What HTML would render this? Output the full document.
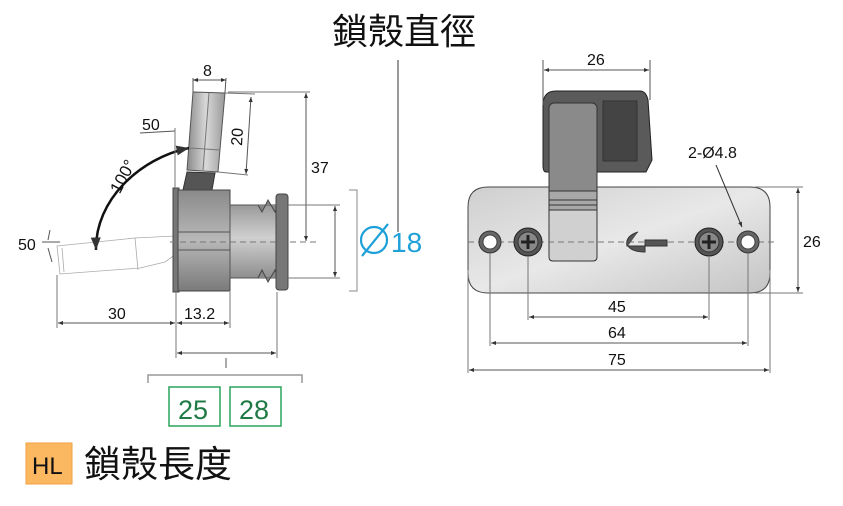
<!DOCTYPE html>
<html><head><meta charset="utf-8"><style>
html,body{margin:0;padding:0;background:#fff;width:843px;height:506px;overflow:hidden}
svg text{font-family:"Liberation Sans","Noto Sans CJK TC",sans-serif}
</style></head><body>
<svg width="843" height="506" viewBox="0 0 843 506" xmlns="http://www.w3.org/2000/svg">
<defs>
<marker id="a" viewBox="0 0 10 10" refX="10" refY="5" markerWidth="7" markerHeight="5" orient="auto-start-reverse"><path d="M0,1 L10,5 L0,9 z" fill="#333"/></marker>
<linearGradient id="cyl" x1="0" y1="0" x2="0" y2="1"><stop offset="0" stop-color="#8a8a8a"/><stop offset=".5" stop-color="#b8b8b8"/><stop offset="1" stop-color="#7a7a7a"/></linearGradient>
<linearGradient id="cyl2" x1="0" y1="0" x2="0" y2="1"><stop offset="0" stop-color="#9a9a9a"/><stop offset=".45" stop-color="#d0d0d0"/><stop offset="1" stop-color="#8e8e8e"/></linearGradient>
<linearGradient id="plate" x1="0" y1="0" x2="1" y2="1"><stop offset="0" stop-color="#cfcfcf"/><stop offset=".5" stop-color="#e8e8e8"/><stop offset="1" stop-color="#c4c4c4"/></linearGradient>
<linearGradient id="hd" x1="0" y1="0" x2="1" y2="0"><stop offset="0" stop-color="#8a8a8a"/><stop offset=".5" stop-color="#d8d8d8"/><stop offset="1" stop-color="#999"/></linearGradient>
</defs>
<g stroke="#333" stroke-width="1" fill="none">
<text x="332" y="44" font-size="36" fill="#111" stroke="none">鎖殼直徑</text>
<line x1="398" y1="60" x2="398" y2="232"/>

<g stroke="#aaa" stroke-width="0.8">
<polygon points="57,246 135,238 175,236 176,254 165,262 140,268 60,274"/>
<line x1="135" y1="238" x2="138" y2="270"/>
<line x1="62" y1="248" x2="64" y2="272"/>
</g>
<polygon points="193,92 225,93 218,172 187,170" fill="url(#hd)" stroke="#555"/>
<line x1="209" y1="93" x2="203" y2="170" stroke="#777"/>
<line x1="190" y1="148" x2="220" y2="150" stroke="#777"/>
<polygon points="187,172 215,173 212,190 183,190" fill="#555" stroke="#333"/>
<rect x="173" y="188" width="6" height="104" fill="#777" stroke="#444"/>
<rect x="178" y="190" width="52" height="101" fill="url(#cyl)" stroke="#444"/>
<line x1="178" y1="232" x2="230" y2="232" stroke="#555"/>
<line x1="178" y1="250" x2="230" y2="250" stroke="#555"/>
<rect x="230" y="205" width="48" height="73" fill="url(#cyl2)" stroke="#555"/>
<path d="M258,205 L262,212 L268,200 L275,212 L278,205 M258,278 L262,270 L268,282 L275,270 L278,278" stroke="#444" fill="#888"/>
<rect x="276" y="194" width="12" height="96" rx="3" fill="#777" stroke="#444"/>
<line x1="170" y1="242" x2="320" y2="242" stroke="#777" stroke-dasharray="6,4"/>
<path d="M189,148 C140,158 95,200 96,250" stroke="#111" stroke-width="2.5" fill="none" marker-start="url(#a)" marker-end="url(#a)"/>
<text x="106" y="192" font-size="17" fill="#111" stroke="none" transform="rotate(-62 115 182)">100°</text>
<line x1="193" y1="92" x2="193" y2="78" stroke="#555"/><line x1="225" y1="93" x2="226" y2="78" stroke="#555"/>
<line x1="193" y1="80" x2="226" y2="80" stroke="#555" marker-start="url(#a)" marker-end="url(#a)"/>
<text x="203" y="76" font-size="16" fill="#111" stroke="none">8</text>
<line x1="225" y1="93" x2="255" y2="94" stroke="#777"/><line x1="218" y1="172" x2="248" y2="175" stroke="#777"/>
<line x1="251" y1="97" x2="246" y2="174" stroke="#555" marker-start="url(#a)" marker-end="url(#a)"/>
<text x="242" y="146" font-size="16" fill="#111" stroke="none" transform="rotate(-87 242 146)">20</text>
<line x1="140" y1="133" x2="175" y2="131" stroke="#555"/><line x1="175" y1="128" x2="175" y2="188" stroke="#777"/>
<text x="142" y="130" font-size="16" fill="#111" stroke="none">50</text>
<text x="18" y="250" font-size="16" fill="#111" stroke="none">50</text>
<line x1="42" y1="242" x2="60" y2="242" stroke="#555"/>
<line x1="50" y1="230" x2="48" y2="240" stroke="#555"/><line x1="48" y1="248" x2="52" y2="262" stroke="#555"/>
<line x1="228" y1="92" x2="310" y2="92" stroke="#777"/>
<line x1="306" y1="93" x2="306" y2="241" stroke="#555" marker-start="url(#a)" marker-end="url(#a)"/>
<text x="311" y="173" font-size="16" fill="#111" stroke="none">37</text>
<line x1="288" y1="205" x2="340" y2="205" stroke="#777"/><line x1="288" y1="278" x2="340" y2="278" stroke="#777"/>
<line x1="335" y1="206" x2="335" y2="277" stroke="#555" marker-start="url(#a)" marker-end="url(#a)"/>
<path d="M349,190 H357 V291 H349" stroke="#888"/>
<circle cx="374" cy="240" r="13" stroke="#1ea0d8" stroke-width="2.2"/>
<line x1="362" y1="256" x2="388" y2="224" stroke="#1ea0d8" stroke-width="2.2"/>
<text x="391" y="252" font-size="28" fill="#1ea0d8" stroke="none">18</text>
<line x1="57" y1="275" x2="57" y2="328" stroke="#777"/><line x1="176" y1="292" x2="176" y2="358" stroke="#777"/><line x1="230" y1="292" x2="230" y2="328" stroke="#777"/>
<line x1="58" y1="323" x2="175" y2="323" stroke="#555" marker-start="url(#a)" marker-end="url(#a)"/>
<line x1="177" y1="323" x2="229" y2="323" stroke="#555" marker-start="url(#a)" marker-end="url(#a)"/>
<text x="108" y="319" font-size="16" fill="#111" stroke="none">30</text>
<text x="184" y="319" font-size="16" fill="#111" stroke="none">13.2</text>
<line x1="277" y1="292" x2="277" y2="358" stroke="#777"/>
<line x1="177" y1="353" x2="276" y2="353" stroke="#555" marker-start="url(#a)" marker-end="url(#a)"/>
<line x1="226" y1="358" x2="226" y2="368" stroke="#555"/>
<path d="M148,383 V375 H302 V383" stroke="#999" stroke-width="1.5"/>
<rect x="169" y="387" width="51" height="39" stroke="#2aa35a" stroke-width="1.5"/>
<rect x="230" y="387" width="51" height="39" stroke="#2aa35a" stroke-width="1.5"/>
<text x="178" y="419" font-size="27" fill="#1f7a45" stroke="none">25</text>
<text x="239" y="419" font-size="27" fill="#1f7a45" stroke="none">28</text>
<rect x="26" y="443" width="46" height="41" fill="#fbb860" stroke="#f0a040"/>
<text x="32" y="474" font-size="24" fill="#111" stroke="none">HL</text>
<text x="84" y="477" font-size="37" fill="#111" stroke="none">鎖殼長度</text>

<path d="M488,187 H750 Q770,187 770,207 V273 Q770,293 750,293 H488 Q468,293 468,273 V207 Q468,187 488,187 Z" fill="url(#plate)" stroke="#444"/>
<path d="M556,91 H640 Q646,91 648,100 L652,160 L646,172 H546 Q543,172 543,165 V105 Q543,91 556,91 Z" fill="#5a5a5a" stroke="#222"/>
<rect x="603" y="101" width="34" height="60" fill="#444" stroke="#333"/>
<rect x="549" y="103" width="48" height="108" rx="5" fill="#8a8a8a" stroke="#333"/>
<rect x="549" y="191" width="48" height="20" fill="#a8a8a8" stroke="#333"/>
<line x1="549" y1="200" x2="597" y2="200"/><line x1="549" y1="205" x2="597" y2="205"/>
<path d="M549,210 H597 V257 Q597,261 593,261 H553 Q549,261 549,257 Z" fill="#d0d0d0" stroke="#333"/>
<line x1="468" y1="242" x2="775" y2="242" stroke="#777" stroke-dasharray="6,4"/>
<circle cx="490" cy="242" r="11" fill="#666" stroke="#333"/><circle cx="490" cy="242" r="7" fill="#fff" stroke="#444"/>
<circle cx="748" cy="242" r="11" fill="#666" stroke="#333"/><circle cx="748" cy="242" r="7" fill="#fff" stroke="#444"/>
<circle cx="528" cy="242" r="14" fill="#555" stroke="#222"/><circle cx="528" cy="242" r="10" fill="#888"/>
<path d="M521,242 H535 M528,235 V249" stroke="#222" stroke-width="3"/>
<circle cx="709" cy="242" r="14" fill="#555" stroke="#222"/><circle cx="709" cy="242" r="10" fill="#888"/>
<path d="M702,242 H716 M709,235 V249" stroke="#222" stroke-width="3"/>
<path d="M638,232 Q625,236 627,246 L645,246 L645,240 L667,240 L667,246 L645,246 L645,252 Q632,252 628,246" fill="#555" stroke="#333"/>
<text x="688" y="158" font-size="16" fill="#111" stroke="none">2-Ø4.8</text>
<line x1="716" y1="165" x2="742" y2="227" stroke="#333" marker-end="url(#a)"/>
<line x1="543" y1="60" x2="543" y2="105" stroke="#555"/><line x1="650" y1="60" x2="650" y2="100" stroke="#555"/>
<line x1="544" y1="70" x2="649" y2="70" stroke="#555" marker-start="url(#a)" marker-end="url(#a)"/>
<text x="587" y="65" font-size="16" fill="#111" stroke="none">26</text>
<line x1="755" y1="187" x2="803" y2="187" stroke="#777"/><line x1="755" y1="293" x2="803" y2="293" stroke="#777"/>
<line x1="798" y1="188" x2="798" y2="292" stroke="#555" marker-start="url(#a)" marker-end="url(#a)"/>
<text x="803" y="247" font-size="16" fill="#111" stroke="none">26</text>
<line x1="528" y1="256" x2="528" y2="320" stroke="#777"/><line x1="709" y1="256" x2="709" y2="320" stroke="#777"/>
<line x1="529" y1="317" x2="708" y2="317" stroke="#555" marker-start="url(#a)" marker-end="url(#a)"/>
<text x="608" y="312" font-size="16" fill="#111" stroke="none">45</text>
<line x1="490" y1="253" x2="490" y2="346" stroke="#777"/><line x1="748" y1="253" x2="748" y2="346" stroke="#777"/>
<line x1="491" y1="343" x2="747" y2="343" stroke="#555" marker-start="url(#a)" marker-end="url(#a)"/>
<text x="608" y="338" font-size="16" fill="#111" stroke="none">64</text>
<line x1="468" y1="270" x2="468" y2="373" stroke="#777"/><line x1="770" y1="270" x2="770" y2="373" stroke="#777"/>
<line x1="469" y1="370" x2="769" y2="370" stroke="#555" marker-start="url(#a)" marker-end="url(#a)"/>
<text x="608" y="365" font-size="16" fill="#111" stroke="none">75</text>
</g>
</svg>
</body></html>
